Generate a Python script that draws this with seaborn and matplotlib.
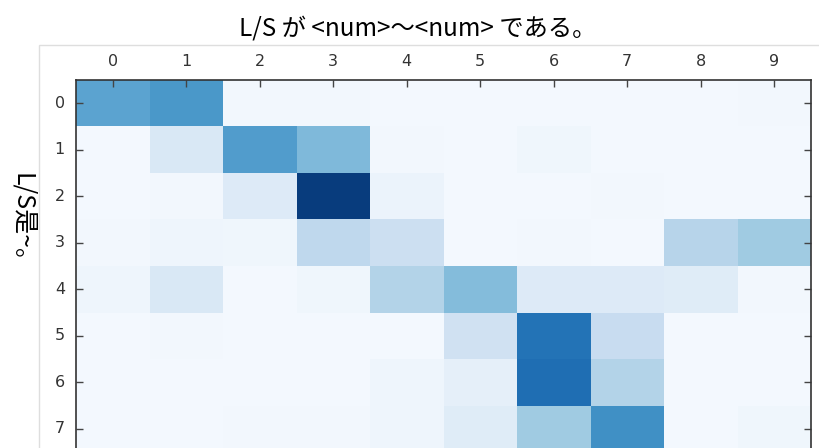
import matplotlib
matplotlib.use("Agg")
import matplotlib.pyplot as plt
import seaborn as sns
import numpy as np
import pandas as pd
from matplotlib.patches import Rectangle

col_labels = ["0", "1", "2", "3", "4", "5", "6", "7", "8", "9"]
row_labels = ["0", "1", "2", "3", "4", "5", "6", "7"]
row0 = [0.55, 0.60, 0.03, 0.03, 0.02, 0.02, 0.02, 0.02, 0.02, 0.03]
row1 = [0.02, 0.15, 0.58, 0.45, 0.03, 0.02, 0.04, 0.02, 0.02, 0.02]
row2 = [0.02, 0.03, 0.13, 0.95, 0.06, 0.02, 0.02, 0.03, 0.02, 0.02]
row3 = [0.03, 0.05, 0.04, 0.27, 0.22, 0.02, 0.03, 0.02, 0.30, 0.37]
row4 = [0.05, 0.15, 0.02, 0.04, 0.31, 0.44, 0.13, 0.13, 0.12, 0.03]
row5 = [0.02, 0.03, 0.02, 0.02, 0.02, 0.20, 0.74, 0.24, 0.02, 0.02]
row6 = [0.02, 0.02, 0.02, 0.02, 0.05, 0.09, 0.76, 0.31, 0.02, 0.02]
row7 = [0.02, 0.02, 0.03, 0.03, 0.05, 0.12, 0.37, 0.63, 0.02, 0.04]

title_text = "L/S が <num>〜<num> である。"
ylabel_text = "L/S是~。"

data = pd.DataFrame([row0, row1, row2, row3, row4, row5, row6, row7],
                    index=row_labels, columns=col_labels)

W, H = 819, 448
fig = plt.figure(figsize=(W / 100, H / 100), dpi=100)

# faint frame of embedded picture
fig.patches.append(Rectangle((39 / W, -0.1), 1.0, 1 - 45 / H + 0.1,
                             transform=fig.transFigure, fill=False,
                             edgecolor="#dedede", linewidth=1.0))

ax = fig.add_axes([76 / W, 1 - 452 / H, 735 / W, 372 / H])
sns.heatmap(data, cmap="Blues", vmin=0, vmax=1, cbar=False, ax=ax)

for s in ax.spines.values():
    s.set_visible(True)
    s.set_color("#333333")
    s.set_linewidth(1.2)

ax.xaxis.set_ticks_position("top")
ax.xaxis.set_label_position("top")
ax.yaxis.set_ticks_position("both")
ax.tick_params(axis="both", direction="in", length=5, width=1,
               color="#444444", labelsize=11.5, labelcolor="#333333")
ax.tick_params(axis="x", pad=8)
ax.tick_params(axis="y", pad=8)
ax.set_xticklabels(col_labels, rotation=0, family="DejaVu Sans")
ax.set_yticklabels(row_labels, rotation=0, family="DejaVu Sans")
ax.set_xlabel("")
ax.set_ylabel("")

fig.text(418 / W, 1 - 28 / H, title_text, ha="center", va="center",
         fontsize=17.5, family=["Noto Sans CJK JP", "DejaVu Sans"], color="black")
fig.text(22 / W, 1 - 224 / H, ylabel_text, ha="center", va="center",
         rotation=270, fontsize=18,
         family=["Noto Sans CJK JP", "DejaVu Sans"], color="black")

fig.savefig("out.png", dpi=100)
